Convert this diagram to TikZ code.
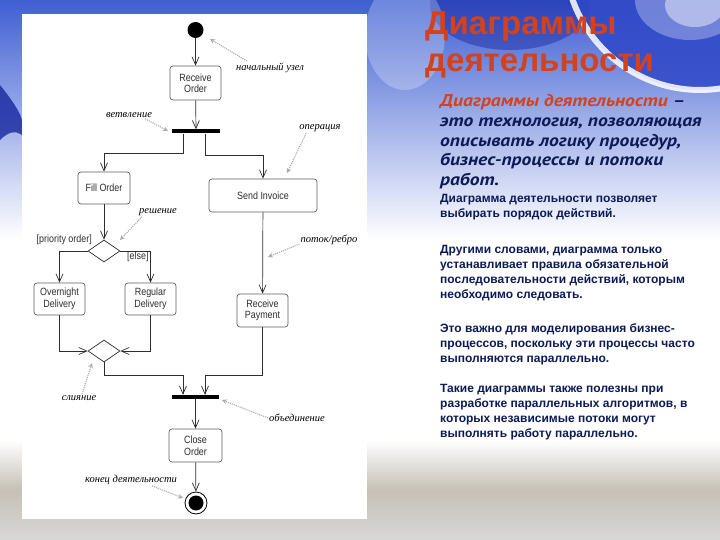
\documentclass[tikz,border=0pt]{standalone}
\usepackage{fontspec}
\setmainfont{Liberation Sans}
\newfontfamily\diafont[FakeStretch=0.85]{Liberation Sans}
\newfontfamily\handfont{Liberation Serif}
\newfontfamily\subfont[FakeStretch=1.15]{PT Sans}
\usetikzlibrary{arrows.meta,shapes.geometric}
\definecolor{navy}{HTML}{0C1A55}
\definecolor{titlered}{HTML}{D4421C}
\definecolor{skyA}{HTML}{3F5FD2}
\definecolor{skyC}{HTML}{2F48C8}
\definecolor{deepblue}{HTML}{1626A0}
\definecolor{sand}{HTML}{C6C0B6}
\definecolor{lgray}{HTML}{D8D8D8}
\definecolor{linec}{HTML}{2E2E2E}
\tikzset{
  act/.style={draw=gray!75!black, rounded corners=3pt, line width=0.7pt, fill=white,
    font=\diafont\fontsize{10.5}{11.5}\selectfont, text=linec, align=center, inner sep=0pt},
  bar/.style={fill=black, inner sep=0pt, minimum height=4pt},
  decision/.style={diamond, draw=linec, line width=0.7pt, inner sep=0pt, minimum width=32pt, minimum height=22pt},
  flow/.style={draw=linec, line width=0.7pt, -{Straight Barb[length=8pt,width=7pt]}},
  hand/.style={font=\handfont\itshape\fontsize{10.5}{12}\selectfont, text=black, inner sep=1pt},
  note/.style={draw=gray!65, line width=1.1pt, densely dotted, -{Stealth[length=5pt,width=5pt]}},
  guard/.style={font=\diafont\fontsize{10.5}{11.5}\selectfont, text=linec, inner sep=0pt},
  body/.style={font=\bfseries\fontsize{12}{15}\selectfont, text=navy, align=left, inner sep=0pt, anchor=base west},
  titletext/.style={anchor=base west, inner sep=0pt, font=\bfseries\fontsize{33}{37}\selectfont, text=titlered}
}
\begin{document}
\begin{tikzpicture}[x=1pt,y=-1pt]
\useasboundingbox (0,0) rectangle (720,540);
% ---------- background ----------
\fill[white] (0,0) rectangle (720,540);
\shade[top color=skyA, bottom color=white] (0,0) rectangle (720,240);
\fill[deepblue, opacity=0.45] (510,5) ellipse (80 and 45);
\fill[skyC, opacity=0.85] (700,-45) circle (135);
\fill[white, opacity=0.45] (695,5) ellipse (30 and 22);
\fill[white, opacity=0.3] (690,0) ellipse (55 and 40);
\draw[white, line width=6pt, opacity=0.85] (700,-45) circle (135);
\fill[white, opacity=0.25] (405,35) ellipse (40 and 55);
\fill[deepblue, opacity=0.8] (0,85) .. controls (12,100) and (20,112) .. (22,120) -- (22,135) .. controls (15,130) and (8,132) .. (0,140) -- cycle;
\shade[top color=white, bottom color=sand] (0,440) rectangle (720,490);
\shade[top color=sand, bottom color=lgray] (0,490) rectangle (720,540);
% ---------- diagram panel ----------
\fill[white] (22,14) rectangle (367,519);

% nodes
\node[circle, fill=black, minimum size=16pt, inner sep=0pt] (start) at (195.5,30) {};
\node[act, minimum width=51pt, minimum height=34pt] (recv) at (195.5,83) {Receive\\Order};
\node[bar, minimum width=48pt] (fork) at (196,131.5) {};
\node[act, minimum width=52pt, minimum height=32pt] (fill) at (104,188) {Fill Order};
\node[act, minimum width=108pt, minimum height=33pt] (invoice) at (263,195.5) {Send Invoice};
\node[decision] (dec) at (104,251) {};
\node[act, minimum width=51pt, minimum height=32pt] (overnight) at (59.5,299) {Overnight\\Delivery};
\node[act, minimum width=51pt, minimum height=32pt] (regular) at (150.5,299) {Regular\\Delivery};
\node[act, minimum width=51pt, minimum height=33pt] (payment) at (262.5,310.5) {Receive\\Payment};
\node[decision] (merge) at (104,351) {};
\node[bar, minimum width=47pt] (join) at (195.5,397) {};
\node[act, minimum width=53pt, minimum height=33pt] (close) at (195.5,445.5) {Close\\Order};
\node[circle, draw=black, line width=0.8pt, fill=white, minimum size=22pt, inner sep=0pt,
  path picture={\fill[black] (path picture bounding box.center) circle (7.5pt);}] (endn) at (196,503) {};

\node[guard, anchor=east] (g1) at (92,240) {[priority order]};
\node[guard, anchor=west] (g2) at (127,257) {[else]};

% connectors
\draw[flow] (start) -- (recv);
\draw[flow] (recv) -- (fork);
\draw[flow] ([xshift=-12.5pt]fork.south) -- ++(0,19.5) -| (fill.north);
\draw[flow] ([xshift=9.5pt]fork.south) -- ++(0,21.5) -| (invoice.north);
\draw[flow] (fill) -- (dec);
\draw[flow] (dec.west) -| (overnight.north);
\draw[flow] (dec.east) -| (regular.north);
\draw[flow] (invoice) -- (payment);
\draw[flow] (overnight.south) |- (merge.west);
\draw[flow] (regular.south) |- (merge.east);
\draw[flow] (merge.south) -- ++(0,13) -| ([xshift=-12.5pt]join.north);
\draw[flow] (payment.south) -- ++(0,48) -| ([xshift=9.5pt]join.north);
\draw[flow] (join) -- (close);
\draw[flow] (close) -- (endn);

% annotations
\node[hand] (l1) at (270,68) {начальный узел};
\node[hand] (l2) at (129,115) {ветвление};
\node[hand] (l3) at (320,128) {операция};
\node[hand] (l4) at (158,212) {решение};
\node[hand] (l5) at (329,240) {поток/ребро};
\node[hand] (l6) at (79,398) {слияние};
\node[hand] (l7) at (297,418) {объединение};
\node[hand] (l8) at (131,480) {конец деятельности};
\coordinate (t1) at (210,39);
\coordinate (t2) at (168,131);
\coordinate (t3) at (287,173);
\coordinate (t4) at (120,240);
\coordinate (t5) at (268,257);
\coordinate (t6) at (92,363);
\coordinate (t7) at (222,400);
\coordinate (t8) at (183,498);
\draw[note] (247,61) -- (t1);
\draw[note] (l2.south east) ++(-8,0) -- (t2);
\draw[note] (l3.south west) ++(8,0) -- (t3);
\draw[note] (l4.south west) ++(4,0) -- (t4);
\draw[note] (l5.west) ++(0,4) -- (t5);
\draw[note] (l6.north) ++(3,0) -- (t6);
\draw[note] (l7.west) -- (t7);
\draw[note] (l8.south) ++(21,0) -- (t8);

% ---------- text ----------
\node[titletext] (title1) at (425,35) {Диаграммы};
\node[titletext] (title2) at (425,72) {деятельности};
\node[anchor=base west, inner sep=0pt, align=left, text=navy,
  font=\subfont\bfseries\itshape\fontsize{17}{19.6}\selectfont] (sub) at (440,185.4)
  {{\color{titlered}Диаграммы деятельности} –\\это технология, позволяющая\\описывать логику процедур,\\бизнес-процессы и потоки\\работ.};
\node[body] (p1) at (440,218) {Диаграмма деятельности позволяет\\выбирать порядок действий.};
\node[body] (p2) at (440,298) {Другими словами, диаграмма только\\устанавливает правила обязательной\\последовательности действий, которым\\необходимо следовать.};
\node[body] (p3) at (440,362) {Это важно для моделирования бизнес-\\процессов, поскольку эти процессы часто\\выполняются параллельно.};
\node[body] (p4) at (440,437) {Такие диаграммы также полезны при\\разработке параллельных алгоритмов, в\\которых независимые потоки могут\\выполнять работу параллельно.};
\end{tikzpicture}
\end{document}
